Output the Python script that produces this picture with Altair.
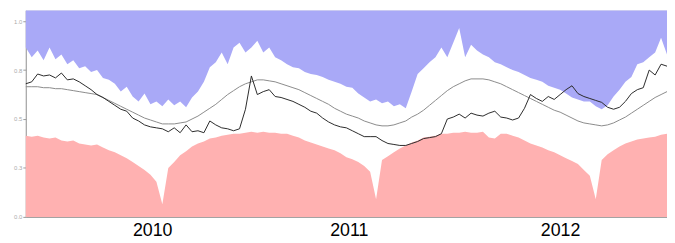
import altair as alt
import pandas as pd

# sampling dates (every 10 days)
dates = pd.date_range("2009-06-14", periods=109, freq="10D")

# upper envelope (bottom edge of the blue band)
upper = [0.865, 0.815, 0.85, 0.80, 0.865, 0.805, 0.83, 0.78, 0.80, 0.76,
         0.77, 0.74, 0.75, 0.71, 0.70, 0.68, 0.64, 0.665, 0.615, 0.59,
         0.63, 0.575, 0.59, 0.565, 0.60, 0.57, 0.59, 0.56, 0.61, 0.64,
         0.69, 0.765, 0.79, 0.84, 0.78, 0.865, 0.89, 0.84, 0.865, 0.90,
         0.84, 0.865, 0.815, 0.80, 0.78, 0.765, 0.76, 0.74, 0.73, 0.725,
         0.715, 0.70, 0.69, 0.68, 0.665, 0.66, 0.63, 0.61, 0.59, 0.60,
         0.58, 0.59, 0.565, 0.575, 0.555, 0.64, 0.73, 0.76, 0.79, 0.815,
         0.865, 0.815, 0.89, 0.965, 0.815, 0.88, 0.85, 0.83, 0.815, 0.79,
         0.78, 0.765, 0.75, 0.74, 0.725, 0.71, 0.70, 0.69, 0.67, 0.66,
         0.65, 0.63, 0.61, 0.60, 0.59, 0.59, 0.565, 0.55, 0.57, 0.615,
         0.65, 0.69, 0.715, 0.78, 0.79, 0.815, 0.84, 0.915, 0.83]

# lower envelope (top edge of the red band)
lower = [0.415, 0.41, 0.415, 0.405, 0.40, 0.405, 0.39, 0.385, 0.39, 0.375,
         0.37, 0.365, 0.37, 0.355, 0.34, 0.33, 0.315, 0.30, 0.28, 0.26,
         0.24, 0.215, 0.18, 0.065, 0.25, 0.28, 0.315, 0.335, 0.36, 0.375,
         0.385, 0.40, 0.405, 0.415, 0.42, 0.425, 0.425, 0.43, 0.435, 0.43,
         0.435, 0.43, 0.43, 0.425, 0.425, 0.415, 0.405, 0.39, 0.38, 0.37,
         0.36, 0.35, 0.34, 0.325, 0.305, 0.295, 0.28, 0.26, 0.23, 0.09,
         0.29, 0.31, 0.33, 0.35, 0.365, 0.38, 0.39, 0.405, 0.41, 0.415,
         0.425, 0.425, 0.43, 0.43, 0.435, 0.43, 0.43, 0.435, 0.405, 0.40,
         0.425, 0.425, 0.415, 0.405, 0.39, 0.375, 0.365, 0.355, 0.34, 0.33,
         0.315, 0.30, 0.285, 0.27, 0.24, 0.21, 0.09, 0.29, 0.32, 0.34,
         0.36, 0.375, 0.385, 0.395, 0.40, 0.405, 0.41, 0.42, 0.425]

# observed series (black line)
observed = [0.68, 0.69, 0.73, 0.72, 0.725, 0.71, 0.735, 0.70, 0.705, 0.69,
            0.67, 0.65, 0.625, 0.61, 0.59, 0.57, 0.55, 0.54, 0.505, 0.49,
            0.47, 0.46, 0.455, 0.45, 0.435, 0.455, 0.43, 0.47, 0.435, 0.44,
            0.43, 0.49, 0.47, 0.455, 0.45, 0.44, 0.45, 0.55, 0.72, 0.625,
            0.64, 0.65, 0.615, 0.61, 0.60, 0.59, 0.575, 0.56, 0.54, 0.53,
            0.505, 0.485, 0.47, 0.46, 0.455, 0.44, 0.425, 0.41, 0.41, 0.41,
            0.39, 0.375, 0.37, 0.365, 0.365, 0.375, 0.385, 0.40, 0.405, 0.41,
            0.425, 0.50, 0.51, 0.525, 0.505, 0.53, 0.52, 0.515, 0.53, 0.54,
            0.51, 0.505, 0.495, 0.505, 0.555, 0.625, 0.605, 0.59, 0.615, 0.60,
            0.625, 0.65, 0.67, 0.63, 0.615, 0.605, 0.595, 0.585, 0.56, 0.55,
            0.56, 0.59, 0.63, 0.65, 0.66, 0.75, 0.725, 0.78, 0.77]

# seasonal mean (gray line)
seasonal = [0.665, 0.665, 0.665, 0.66, 0.66, 0.655, 0.655, 0.65, 0.645, 0.64,
            0.635, 0.63, 0.625, 0.61, 0.595, 0.58, 0.565, 0.55, 0.535, 0.52,
            0.505, 0.495, 0.485, 0.475, 0.475, 0.475, 0.48, 0.485, 0.50, 0.515,
            0.535, 0.555, 0.575, 0.60, 0.625, 0.645, 0.665, 0.68, 0.69, 0.70,
            0.70, 0.695, 0.69, 0.68, 0.67, 0.66, 0.65, 0.635, 0.62, 0.605,
            0.59, 0.575, 0.555, 0.54, 0.525, 0.515, 0.505, 0.49, 0.48, 0.47,
            0.465, 0.465, 0.47, 0.48, 0.49, 0.51, 0.525, 0.545, 0.57, 0.595,
            0.62, 0.645, 0.665, 0.68, 0.695, 0.705, 0.705, 0.705, 0.70, 0.69,
            0.68, 0.665, 0.65, 0.635, 0.62, 0.605, 0.59, 0.575, 0.56, 0.545,
            0.535, 0.52, 0.505, 0.49, 0.48, 0.475, 0.47, 0.465, 0.47, 0.48,
            0.495, 0.51, 0.53, 0.55, 0.57, 0.59, 0.61, 0.625, 0.64]

year_tick_dates = [alt.DateTime(year=2010, month=1, date=13),
                   alt.DateTime(year=2010, month=12, date=10),
                   alt.DateTime(year=2011, month=12, date=1)]
y_ticks = [0.0, 0.25, 0.5, 0.75, 1.0]
Y_MAX = 1.055

df = pd.DataFrame({"date": dates, "upper": upper, "lower": lower,
                   "observed": observed, "seasonal": seasonal})

x_enc = alt.X("date:T",
              scale=alt.Scale(domain=[alt.DateTime(year=2009, month=6, date=14),
                                      alt.DateTime(year=2012, month=5, date=29)],
                              nice=False),
              axis=alt.Axis(values=year_tick_dates, title=None, grid=False,
                            labelExpr="year(datum.value) + (month(datum.value) >= 10 ? 1 : 0)",
                            labelFont="Liberation Sans", labelFontSize=18,
                            labelColor="#000000", labelPadding=5, ticks=False,
                            domainColor="#999999", labelFlush=False))
y_scale = alt.Scale(domain=[0, Y_MAX], nice=False)
y_axis = alt.Axis(values=y_ticks, format=".1f", title=None, grid=False,
                  labelFontSize=6, labelColor="#aaaaaa", tickSize=3,
                  tickColor="#999999", domainColor="#999999", labelPadding=1)

base = alt.Chart(df)

blue = base.mark_area(color="#a9a9f7", opacity=1).encode(
    x=x_enc,
    y=alt.Y("upper:Q", scale=y_scale, axis=y_axis),
    y2=alt.datum(Y_MAX),
)
red = base.mark_area(color="#ffb1b1", opacity=1).encode(
    x=x_enc,
    y=alt.Y("lower:Q", scale=y_scale, axis=y_axis),
)
gray = base.mark_line(color="#8a8a8a", strokeWidth=1).encode(
    x=x_enc,
    y=alt.Y("seasonal:Q", scale=y_scale, axis=y_axis),
)
black = base.mark_line(color="#2a2a2a", strokeWidth=1).encode(
    x=x_enc,
    y=alt.Y("observed:Q", scale=y_scale, axis=y_axis),
)

chart = alt.layer(blue, red, gray, black).properties(
    width=649, height=209,
    autosize=alt.AutoSizeParams(type="none"),
    padding={"left": 18, "top": 1, "right": 0, "bottom": 24},
).configure_view(stroke="#999999", strokeWidth=1).configure(background="white")

chart.save("out.html", embed_options={"renderer": "svg", "actions": False})
